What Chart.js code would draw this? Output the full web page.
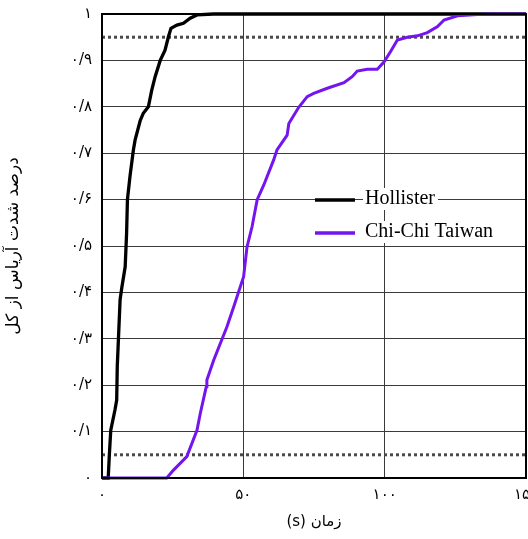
<!DOCTYPE html>
<html>
<head>
<meta charset="utf-8">
<script src="https://cdn.jsdelivr.net/npm/chart.js@4"></script>
<style>
  html, body { margin: 0; padding: 0; background: #fff; }
  #wrap { width: 528px; height: 539px; }
</style>
</head>
<body>
<div id="wrap"><canvas id="chart" dir="rtl"></canvas></div>
<script>
// data
const hollisterX = [0, 2.2, 2.6, 3.1, 4.6, 5.2, 5.4, 6.4, 7.0, 8.2, 8.7, 9.0, 9.9, 11.1, 11.7, 13.5, 14.6, 16.4, 17.6, 18.8, 20.6, 22.3, 23.5, 24.4, 26.5, 28.8, 31.2, 33.6, 39.4, 150];
const hollisterY = [0, 0, 0.05, 0.103, 0.147, 0.168, 0.24, 0.384, 0.41, 0.455, 0.527, 0.6, 0.65, 0.707, 0.728, 0.77, 0.786, 0.80, 0.836, 0.865, 0.90, 0.922, 0.951, 0.969, 0.976, 0.98, 0.991, 0.998, 1.0, 1.0];

const chichiX = [0, 22.9, 25.3, 30.0, 33.6, 34.8, 36.9, 37.1, 39.5, 44.2, 46.6, 50.1, 51.3, 53.1, 54.9, 57.2, 60.7, 61.9, 65.5, 66.1, 69.6, 72.6, 74.9, 79.7, 85.6, 88.5, 90.3, 93.8, 97.4, 99.8, 102.1, 104.5, 108.0, 111.6, 115.1, 118.7, 121.0, 125.8, 132.9, 137, 150];
const chichiY = [0, 0, 0.017, 0.046, 0.103, 0.14, 0.197, 0.211, 0.254, 0.326, 0.369, 0.434, 0.498, 0.542, 0.6, 0.631, 0.685, 0.707, 0.739, 0.764, 0.799, 0.822, 0.829, 0.84, 0.852, 0.865, 0.877, 0.881, 0.881, 0.897, 0.919, 0.944, 0.95, 0.953, 0.96, 0.973, 0.987, 0.996, 0.999, 1, 1];

// 5% and 95% limits (dotted)
const limitLevels = [0.05, 0.95];
const xRange = [0, 150];

const yTickLabels = ["۰", "۰/۱", "۰/۲", "۰/۳", "۰/۴", "۰/۵", "۰/۶", "۰/۷", "۰/۸", "۰/۹", "۱"];
const xTickLabels = ["۰", "۵۰", "۱۰۰", "۱۵۰"];

const seriesNames = ["Hollister", "Chi-Chi Taiwan"];
const xTitle = "زمان (s)";
const yTitle = "درصد شدت آریاس از کل";

const BLACK = "#000000";
const PURPLE = "#7414ee";
const GRID = { color: "#3a3a3a", lineWidth: 1, drawTicks: false };

const toPoints = (xs, ys) => xs.map((x, i) => ({ x, y: ys[i] }));

const limitSets = limitLevels.map((lvl) => ({
  label: "",
  isLimit: true,
  data: xRange.map((x) => ({ x, y: lvl })),
  borderColor: "#4a4a4a",
  borderWidth: 3,
  borderDash: [3, 3],
  pointRadius: 0,
  order: 3,
}));

// simple legend drawn inside the plot area
const innerLegend = {
  id: "innerLegend",
  afterDatasetsDraw(chart, args, opts) {
    const { ctx, chartArea } = chart;
    const x0 = chartArea.left + opts.left;
    ctx.save();
    ctx.font = opts.font;
    ctx.textBaseline = "middle";
    ctx.textAlign = "left";
    chart.data.datasets
      .filter((d) => !d.isLimit)
      .forEach((d, i) => {
        const y = chartArea.top + opts.top + i * opts.rowGap;
        const tx = x0 + opts.lineLen + opts.gap;
        const w = ctx.measureText(d.label).width;
        ctx.fillStyle = "#fff";
        ctx.fillRect(tx - 2, y - 11, w + 5, 22);
        ctx.strokeStyle = d.borderColor;
        ctx.lineWidth = 3.5;
        ctx.beginPath();
        ctx.moveTo(x0, y + 1);
        ctx.lineTo(x0 + opts.lineLen, y + 1);
        ctx.stroke();
        ctx.fillStyle = "#000";
        ctx.fillText(d.label, tx, y);
      });
    ctx.restore();
  },
};

const frameBox = {
  id: "frameBox",
  afterDraw(chart) {
    const { ctx, chartArea: a } = chart;
    ctx.save();
    ctx.strokeStyle = "#000";
    ctx.lineWidth = 2;
    ctx.strokeRect(a.left, a.top, a.right - a.left, a.bottom - a.top);
    ctx.restore();
  },
};

new Chart(document.getElementById("chart"), {
  type: "line",
  data: {
    datasets: [
      {
        label: seriesNames[0],
        data: toPoints(hollisterX, hollisterY),
        borderColor: BLACK,
        borderWidth: 3.3,
        pointRadius: 0,
        order: 2,
      },
      {
        label: seriesNames[1],
        data: toPoints(chichiX, chichiY),
        borderColor: PURPLE,
        borderWidth: 3,
        pointRadius: 0,
        order: 1,
      },
      ...limitSets,
    ],
  },
  options: {
    responsive: true,
    maintainAspectRatio: false,
    animation: false,
    clip: 4,
    layout: { padding: { top: 14, right: 2, left: 0, bottom: 0 } },
    plugins: {
      legend: { display: false },
      tooltip: { enabled: false },
      innerLegend: {
        left: 213,
        top: 185,
        rowGap: 33,
        lineLen: 40,
        gap: 10,
        font: "20px 'Liberation Serif', 'DejaVu Serif', serif",
      },
    },
    scales: {
      x: {
        type: "linear",
        min: xRange[0],
        max: xRange[1],
        afterFit: (s) => { s.height = 61; s.paddingLeft = 0; s.paddingRight = 0; },
        grid: GRID,
        border: { display: false },
        ticks: {
          stepSize: 50,
          padding: 8,
          color: "#000",
          maxRotation: 0,
          font: { family: "'DejaVu Sans', sans-serif", size: 15 },
          callback: (v) => xTickLabels[Math.round(v / 50)],
        },
        title: {
          display: true,
          text: xTitle,
          color: "#000",
          padding: { top: 0, bottom: 8 },
          font: { family: "'DejaVu Sans', sans-serif", size: 15 },
        },
      },
      y: {
        min: 0,
        max: 1,
        afterFit: (s) => { s.width = 102; s.paddingTop = 0; s.paddingBottom = 0; },
        grid: GRID,
        border: { display: false },
        ticks: {
          stepSize: 0.1,
          padding: 10,
          color: "#000",
          font: { family: "'DejaVu Sans', sans-serif", size: 15 },
          callback: (v) => yTickLabels[Math.round(v * 10)],
        },
        title: {
          display: true,
          text: yTitle,
          color: "#000",
          padding: { top: 3, bottom: 0 },
          font: { family: "'DejaVu Sans', sans-serif", size: 17 },
        },
      },
    },
  },
  plugins: [innerLegend, frameBox],
});
</script>
</body>
</html>
